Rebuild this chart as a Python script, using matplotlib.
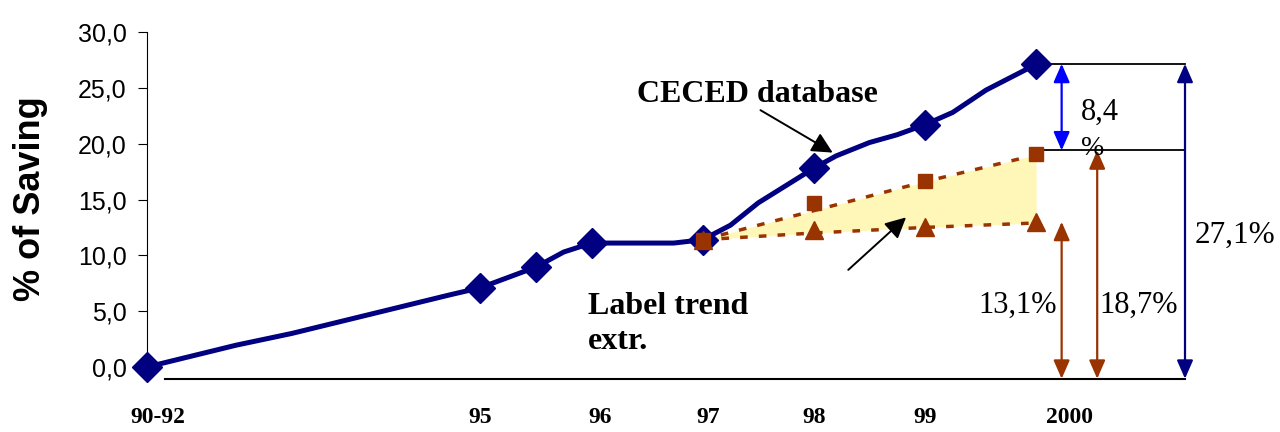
import matplotlib
matplotlib.use("Agg")
import matplotlib.pyplot as plt

# CECED database curve (line vertices and marker points), x in years (92 = "90-92", 100 = 2000)
line_x = [92, 92.8, 93.3, 94.0, 94.72, 95, 95.5, 95.75, 96, 96.74, 97, 97.25, 97.5, 98,
          98.2, 98.5, 98.75, 99, 99.25, 99.55, 100]
line_y = [0, 1.95, 3.0, 4.7, 6.45, 7.1, 8.95, 10.3, 11.1, 11.1, 11.4, 12.7, 14.7, 17.8,
          18.9, 20.1, 20.8, 21.7, 22.8, 24.8, 27.1]
marker_x = [92, 95, 95.5, 96, 97, 98, 99, 100]
marker_y = [0, 7.1, 8.95, 11.1, 11.4, 17.8, 21.7, 27.1]

# label trend extrapolation
trend_x = [97, 98, 99, 100]
upper_pts = [11.4, 14.7, 16.7, 19.1]
upper_line = [11.4, 14.0, 16.6, 19.0]
lower_pts = [11.4, 12.3, 12.5, 13.0]
lower_line = [11.4, 12.0, 12.5, 12.9]

tick_pos = [92.1, 95, 96.08, 97.05, 98, 99, 100.3]
tick_labels = ["90-92", "95", "96", "97", "98", "99", "2000"]
y_ticks = [0, 5, 10, 15, 20, 25, 30]

# reference levels for the dimension arrows
base = -1.05
top_level = 27.15
mid_level = 19.4
low_level = 13.0

navy = "#000080"
brown = "#993300"
serif = "Liberation Serif"
sans = "Liberation Sans"

fig = plt.figure(figsize=(12.8, 4.32), dpi=100)
ax = fig.add_axes([147 / 1280, 1 - 379.3 / 432, (1185 - 147) / 1280, (379.3 - 32) / 432])
ax.set_xlim(92, 101.34)
ax.set_ylim(-1.1, 30)

for s in ["top", "right", "bottom"]:
    ax.spines[s].set_visible(False)
ax.spines["left"].set_bounds(0, 30)
ax.spines["left"].set_linewidth(0.8)

ax.set_yticks(y_ticks)
ax.set_yticklabels([f"{v:.1f}".replace(".", ",") for v in y_ticks], fontfamily=sans, fontsize=18)
ax.tick_params(axis="y", length=6.5, width=0.8, pad=8)
ax.set_xticks(tick_pos)
ax.set_xticklabels(tick_labels, fontfamily=serif, fontweight="bold", fontsize=17)
ax.tick_params(axis="x", length=0, pad=20)
ax.set_ylabel("% of Saving", fontfamily=sans, fontweight="bold", fontsize=26)
ax.yaxis.set_label_coords(-0.095, 0.52)

# baseline
ax.plot([92.16, 101.34], [base, base], color="black", lw=1.5, clip_on=False)

# trend band
ax.fill_between(trend_x, lower_line, upper_line, color="#FFF7B8", lw=0, zorder=2)
ax.plot(trend_x, upper_line, color=brown, lw=2.5, ls=(0, (2.2, 3.2)), zorder=3)
ax.plot(trend_x, lower_line, color=brown, lw=2.5, ls=(0, (2.2, 3.2)), zorder=3)

# CECED curve
ax.plot(line_x, line_y, color=navy, lw=3.6, zorder=4, solid_joinstyle="round")
ax.plot(marker_x, marker_y, ls="none", marker="D", ms=15, color=navy, zorder=5, clip_on=False)
ax.plot(trend_x, lower_pts, ls="none", marker="^", ms=13, color=brown, zorder=6)
ax.plot(trend_x, upper_pts, ls="none", marker="s", ms=10, color=brown, zorder=6)

# reference horizontal lines
ax.plot([100.08, 101.34], [top_level, top_level], color="black", lw=1.3, clip_on=False)
ax.plot([100.06, 101.34], [mid_level, mid_level], color="black", lw=1.3, clip_on=False)

def dim_arrow(x, y0, y1, color, lw=1.6):
    ax.annotate("", xy=(x, y1), xytext=(x, y0),
                arrowprops=dict(arrowstyle="<|-|>,head_length=0.8,head_width=0.35",
                                mutation_scale=14, color=color, lw=lw,
                                shrinkA=0, shrinkB=0), annotation_clip=False)

dim_arrow(100.23, mid_level, top_level, "#0000FF")
dim_arrow(100.23, base, low_level, brown)
dim_arrow(100.55, base, mid_level, brown)
dim_arrow(101.34, base, top_level, navy)

ax.text(100.40, 22.8, "8,4", fontfamily=serif, fontsize=22, va="center", ha="left")
ax.text(100.40, 19.6, "%", fontfamily=serif, fontsize=20, va="center", ha="left")
ax.text(100.19, 5.5, "13,1%", fontfamily=serif, fontsize=22, va="center", ha="right")
ax.text(100.57, 5.5, "18,7%", fontfamily=serif, fontsize=22, va="center", ha="left")
ax.text(101.43, 11.8, "27,1%", fontfamily=serif, fontsize=22.5, va="center", ha="left",
        clip_on=False)

# callouts
ax.text(96.41, 24.4, "CECED database", fontfamily=serif, fontweight="bold", fontsize=23,
        va="center", ha="left")
ax.annotate("", xy=(98.17, 19.2), xytext=(97.52, 23.0),
            arrowprops=dict(arrowstyle="-|>,head_length=0.9,head_width=0.45",
                            mutation_scale=14, color="black", lw=1.4, shrinkA=0, shrinkB=0))
ax.text(95.97, 3.85, "Label trend\nextr.", fontfamily=serif, fontweight="bold", fontsize=23,
        va="center", ha="left", linespacing=1.3)
ax.annotate("", xy=(98.83, 13.4), xytext=(98.31, 8.7),
            arrowprops=dict(arrowstyle="-|>,head_length=0.9,head_width=0.45",
                            mutation_scale=14, color="black", lw=1.4, shrinkA=0, shrinkB=0))

fig.savefig("out.png", dpi=100)
